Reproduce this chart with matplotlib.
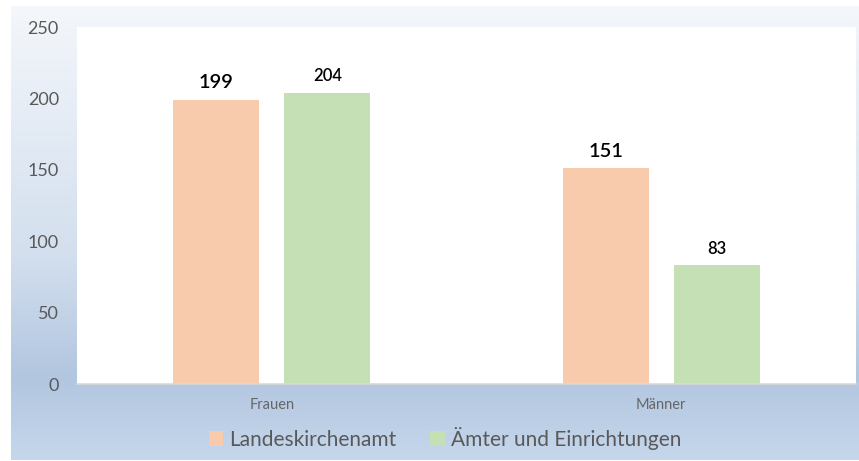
import numpy as np
import matplotlib.pyplot as plt
from matplotlib.patches import Patch
from matplotlib.colors import LinearSegmentedColormap

plt.rcParams['font.family'] = ['Lato', 'DejaVu Sans']

categories = ["Frauen", "Männer"]
series_names = ["Landeskirchenamt", "Ämter und Einrichtungen"]
landeskirchenamt = [199, 151]
aemter = [204, 83]
yticks = [0, 50, 100, 150, 200, 250]

colors = ["#f8cbad", "#c5e0b4"]
label_sizes = [14.5, 12]
text_grey = "#595959"

W, H = 859, 461
fig = plt.figure(figsize=(W / 100, H / 100), dpi=100, facecolor="white")

# gradient background panel
bg = fig.add_axes([11 / W, 1 / H, (W - 11) / W, (H - 6 - 1) / H], zorder=0)
grad = LinearSegmentedColormap.from_list(
    "bg", [(0.0, "#f4f7fb"), (0.55, "#d3dfee"), (0.82, "#b2c6e0"), (1.0, "#c6d7eb")]
)
bg.imshow(np.linspace(0, 1, 256).reshape(-1, 1), aspect="auto", cmap=grad,
          extent=[0, 1, 0, 1], origin="upper")
bg.axis("off")

ax = fig.add_axes([77 / W, (H - 384) / H, (856 - 77) / W, (384 - 27) / H], zorder=1)
ax.set_facecolor("white")

x = np.arange(len(categories))
width = 0.222
offset = 0.1425
for i, (vals, name) in enumerate(zip([landeskirchenamt, aemter], series_names)):
    pos = x + (offset if i else -offset)
    ax.bar(pos, vals, width, color=colors[i], label=name, zorder=2)
    for p, v in zip(pos, vals):
        ax.annotate(str(v), (p, v), xytext=(0, 6), textcoords="offset points",
                    ha="center", va="bottom", fontsize=label_sizes[i],
                    color="black", fontweight="semibold")

ax.set_xlim(-0.5, 1.5)
ax.set_ylim(0, 250)
ax.set_yticks(yticks)
ax.set_xticks(x)
ax.set_xticklabels(categories, fontsize=10.5, color="#666666")
ax.tick_params(axis="y", length=0, pad=13, labelsize=13, labelcolor=text_grey)
ax.tick_params(axis="x", length=0, pad=10)
for s in ["top", "right", "left"]:
    ax.spines[s].set_visible(False)
ax.spines["bottom"].set_color("#d9d9d9")
ax.spines["bottom"].set_linewidth(1.2)

handles = [Patch(facecolor=c, edgecolor="none") for c in colors]
fig.legend(handles, series_names, loc="center", bbox_to_anchor=(445 / W, 1 - 438 / H),
           ncol=2, frameon=False, fontsize=15, labelcolor=text_grey,
           handlelength=0.7, handleheight=0.7, handletextpad=0.3, columnspacing=1.6)

fig.savefig("out.png", dpi=100, facecolor="white")
